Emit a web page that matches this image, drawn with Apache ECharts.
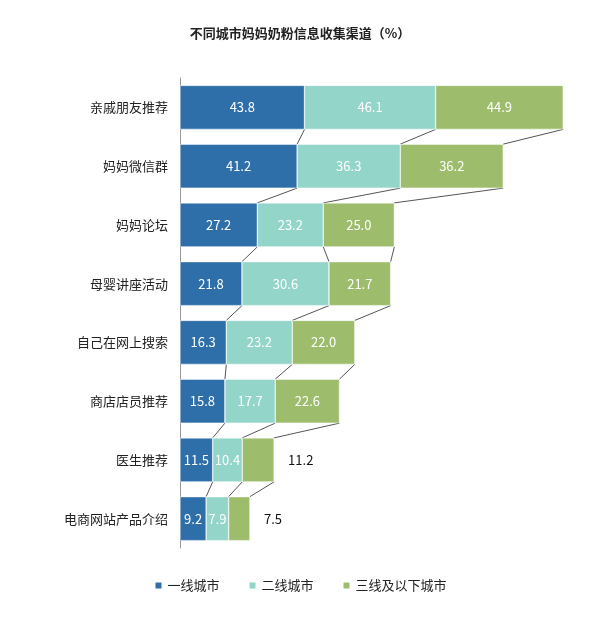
<!DOCTYPE html>
<html><head><meta charset="utf-8">
<script src="https://cdn.jsdelivr.net/npm/echarts@6/dist/echarts.min.js"></script>
<style>html,body{margin:0;padding:0;background:#fff}#c{width:600px;height:619px}</style>
</head><body><div id="c"></div>
<script>
const categories = ['亲戚朋友推荐','妈妈微信群','妈妈论坛','母婴讲座活动','自己在网上搜索','商店店员推荐','医生推荐','电商网站产品介绍'];
const tier1 = [43.8,41.2,27.2,21.8,16.3,15.8,11.5,9.2];
const tier2 = [46.1,36.3,23.2,30.6,23.2,17.7,10.4,7.9];
const tier3 = [44.9,36.2,25.0,21.7,22.0,22.6,11.2,7.5];
const seriesNames = ['一线城市','二线城市','三线及以下城市'];
const colors = ['#2f6fa9','#93d5c9','#9dbd6c'];

const chart = echarts.init(document.getElementById('c'));
const BAR = 44;
const fmt = p => Number(p.value).toFixed(1);
function lbl(i, s) {
  if (s === 2 && i >= 6) return {show:true, position:'right', color:'#111', fontSize:13, distance:14, formatter:fmt};
  return {show:true, position:'inside', color:'#fff', fontSize:13, formatter:fmt};
}
function mk(arr, s) {
  return arr.map((v,i)=>({value:v, label:lbl(i,s)}));
}
const links = categories.slice(0,-1).map((_,i)=>[i]);
chart.setOption({
  animation:false,
  title:{text:'不同城市妈妈奶粉信息收集渠道（%）', left:'center', top:22,
    textStyle:{fontSize:13, fontWeight:'bold', color:'#222', fontFamily:'Noto Sans CJK SC'}},
  textStyle:{fontFamily:'Noto Sans CJK SC'},
  legend:{bottom:22, itemWidth:8, itemHeight:8, itemGap:28, icon:'rect',
    textStyle:{fontSize:13, color:'#222'}, data:seriesNames},
  grid:{left:180, right:22, top:78, bottom:71},
  xAxis:{type:'value', min:0, max:140, show:false},
  yAxis:{type:'category', data:categories, inverse:true,
    axisLine:{lineStyle:{color:'#999'}}, axisTick:{show:false},
    axisLabel:{fontSize:13, color:'#222', margin:12}},
  series:[
    {name:seriesNames[0], type:'bar', stack:'a', barWidth:BAR, data:mk(tier1,0), itemStyle:{color:colors[0], borderColor:'#fff', borderWidth:0.5}},
    {name:seriesNames[1], type:'bar', stack:'a', barWidth:BAR, data:mk(tier2,1), itemStyle:{color:colors[1], borderColor:'#fff', borderWidth:0.5}},
    {name:seriesNames[2], type:'bar', stack:'a', barWidth:BAR, data:mk(tier3,2), itemStyle:{color:colors[2], borderColor:'#fff', borderWidth:0.5}},
    {type:'custom', data:links, z:1, silent:true,
     renderItem:function(params, api){
       const i = api.value(0);
       const a = [tier1[i], tier1[i]+tier2[i], tier1[i]+tier2[i]+tier3[i]];
       const b = [tier1[i+1], tier1[i+1]+tier2[i+1], tier1[i+1]+tier2[i+1]+tier3[i+1]];
       const children = [];
       for (let k=0;k<3;k++){
         const p1 = api.coord([a[k], i]);
         const p2 = api.coord([b[k], i+1]);
         children.push({type:'line', shape:{x1:p1[0], y1:p1[1]+BAR/2, x2:p2[0], y2:p2[1]-BAR/2},
           style:{stroke:'#555', lineWidth:1}});
       }
       return {type:'group', children};
     }}
  ]
});
</script></body></html>
